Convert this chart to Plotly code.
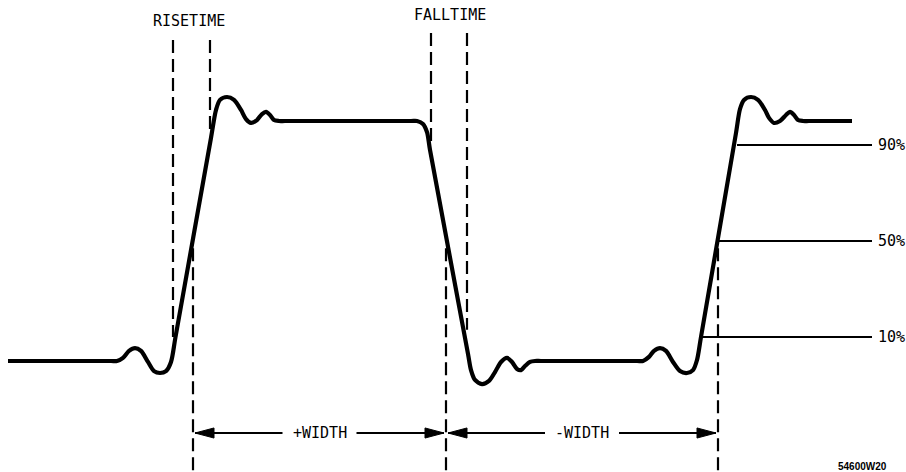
import plotly.graph_objects as go

# ---- waveform: time (display units) and level (fraction of amplitude, 0 = low, 1 = high)
wave_t = [8, 15, 111, 117, 123, 129, 135, 141, 148, 154, 160, 166, 171,
          175.5, 211, 216, 220, 227, 234, 241, 246, 251, 257, 262, 266, 270, 274, 279, 285,
          411, 417, 423, 427, 430, 468,
          471, 475, 482, 489, 495, 501, 507, 512, 517, 521, 525, 530, 535, 541,
          637, 643, 649, 654, 660, 666, 673, 680, 687, 693, 697, 701, 736,
          740, 744, 751, 758, 765, 769, 774, 780, 786, 790, 794, 798, 803, 809, 846, 852]
wave_v = [0.0, 0.0, 0.0, 0.0, 0.013, 0.042, 0.054, 0.042, -0.004, -0.042, -0.05, -0.042, -0.004,
          0.1, 0.93, 1.046, 1.088, 1.1, 1.088, 1.046, 1.008, 0.992, 1.004, 1.029, 1.038, 1.025, 1.004, 1.0, 1.0,
          1.0, 1.0, 0.988, 0.954, 0.88, 0.03,
          -0.038, -0.079, -0.096, -0.083, -0.046, -0.004, 0.013, -0.004, -0.033, -0.038, -0.021, -0.004, 0.0, 0.0,
          0.0, 0.0, 0.017, 0.042, 0.054, 0.042, -0.004, -0.042, -0.05, -0.038, 0.004, 0.1, 0.95,
          1.05, 1.088, 1.1, 1.088, 1.046, 1.013, 0.992, 1.0, 1.025, 1.038, 1.025, 1.004, 1.0, 1.0, 1.0, 1.0]

# ---- rise/fall time markers (dashed, upper)
edge_mark_t = [173, 210, 431, 467]
edge_mark_top = [1.3375, 1.3375, 1.367, 1.367]
edge_mark_bottom = [0.1, 0.95, 0.91, 0.13]
edge_labels = ["RISETIME", "FALLTIME"]
edge_label_t = [188.5, 449.5]
edge_label_v = [1.417, 1.44]

# ---- width markers (dashed, lower, at 50% crossings)
width_mark_t = [193, 446, 718]
width_mark_top = 0.47
width_mark_bottom = -0.48
width_labels = ["+WIDTH", "-WIDTH"]
arrow_v = -0.3

# ---- threshold levels
levels = [0.1, 0.5, 0.9]
level_labels = ["10%", "50%", "90%"]
level_start_t = [702, 718, 737]
level_end_t = 872
level_label_t = 876

figure_id = "54600W20"

AX_X = [0, 906]
AX_Y = [-0.4625, 1.5042]
FONT = "DejaVu Sans Mono"

fig = go.Figure()

# waveform
fig.add_trace(go.Scatter(x=wave_t, y=wave_v, mode="lines",
                         line=dict(color="black", width=4.2, shape="spline", smoothing=0.8),
                         hoverinfo="skip"))

dash = "13px,6px"
for t, top, bot in zip(edge_mark_t, edge_mark_top, edge_mark_bottom):
    fig.add_trace(go.Scatter(x=[t, t], y=[top, bot], mode="lines",
                             line=dict(color="black", width=2.2, dash=dash), hoverinfo="skip"))
for t in width_mark_t:
    fig.add_trace(go.Scatter(x=[t, t], y=[width_mark_top, width_mark_bottom], mode="lines",
                             line=dict(color="black", width=2.2, dash=dash), hoverinfo="skip"))

# level lines
for lv, ts in zip(levels, level_start_t):
    fig.add_trace(go.Scatter(x=[ts, level_end_t], y=[lv, lv], mode="lines",
                             line=dict(color="black", width=1.8), hoverinfo="skip"))

# width arrows
gap = 37
head_len = 19
head_half = 0.021
for i, lab in enumerate(width_labels):
    a, b = width_mark_t[i], width_mark_t[i + 1]
    mid = (a + b) / 2
    fig.add_trace(go.Scatter(x=[a + 2, mid - gap, None, mid + gap, b - 2],
                             y=[arrow_v, arrow_v, None, arrow_v, arrow_v], mode="lines",
                             line=dict(color="black", width=2), hoverinfo="skip"))
    # arrowheads
    fig.add_trace(go.Scatter(x=[a + 2, a + 2 + head_len, a + 2 + head_len, a + 2],
                             y=[arrow_v, arrow_v + head_half, arrow_v - head_half, arrow_v],
                             mode="lines", fill="toself", fillcolor="black",
                             line=dict(color="black", width=1), hoverinfo="skip"))
    fig.add_trace(go.Scatter(x=[b - 2, b - 2 - head_len, b - 2 - head_len, b - 2],
                             y=[arrow_v, arrow_v + head_half, arrow_v - head_half, arrow_v],
                             mode="lines", fill="toself", fillcolor="black",
                             line=dict(color="black", width=1), hoverinfo="skip"))
    fig.add_annotation(x=mid, y=arrow_v, text=lab, showarrow=False,
                       font=dict(family=FONT, size=15, color="black"),
                       xanchor="center", yanchor="middle")

for lab, t, v in zip(edge_labels, edge_label_t, edge_label_v):
    fig.add_annotation(x=t, y=v, text=lab, showarrow=False,
                       font=dict(family=FONT, size=15, color="black"),
                       xanchor="center", yanchor="middle")

for lab, lv in zip(level_labels, levels):
    fig.add_annotation(x=level_label_t, y=lv, text=lab, showarrow=False,
                       font=dict(family=FONT, size=15, color="black"),
                       xanchor="left", yanchor="middle")

fig.add_annotation(x=862, y=-0.4375, text="<b>" + figure_id + "</b>", showarrow=False,
                   font=dict(family="Liberation Sans", size=10, color="black"),
                   xanchor="center", yanchor="middle")

fig.update_layout(width=906, height=472, margin=dict(l=0, r=0, t=0, b=0),
                  paper_bgcolor="white", plot_bgcolor="white", showlegend=False,
                  xaxis=dict(range=AX_X, visible=False, fixedrange=True),
                  yaxis=dict(range=AX_Y, visible=False, fixedrange=True))

fig.write_html("out.html", config={"displayModeBar": False},
               post_script="document.body.style.margin='0';")
